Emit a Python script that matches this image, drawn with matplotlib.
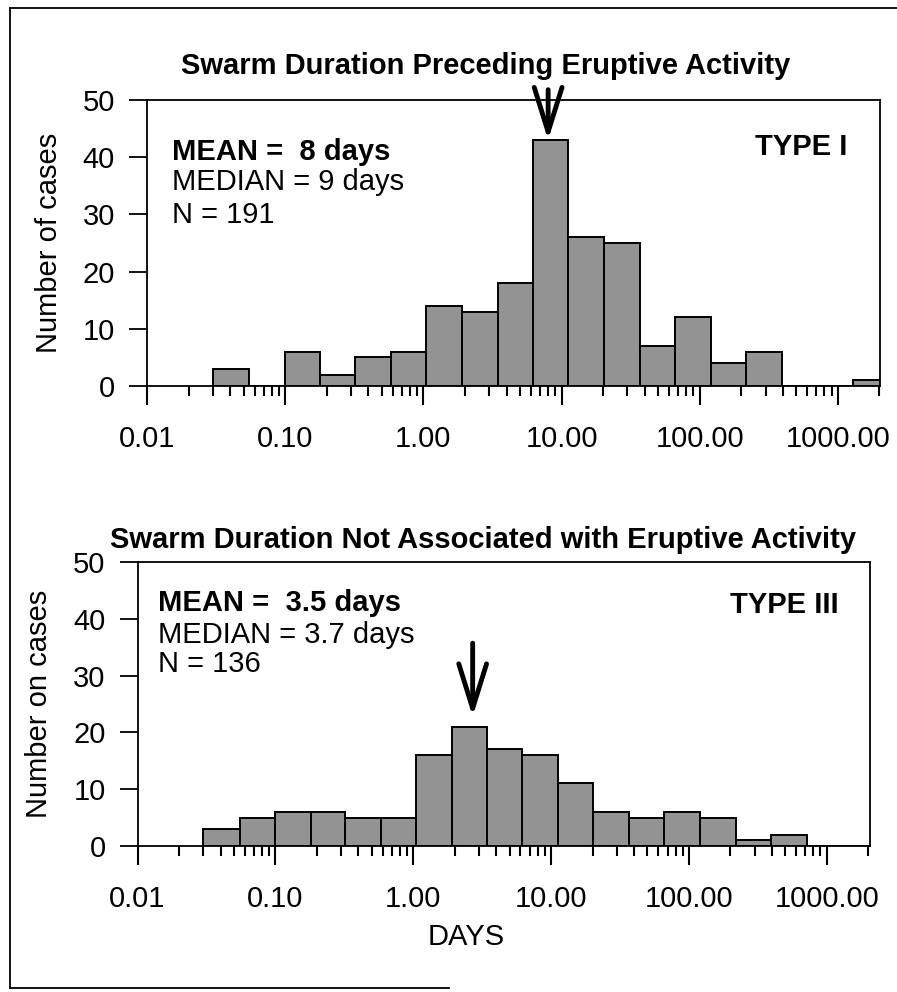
import numpy as np
import matplotlib
matplotlib.use("Agg")
import matplotlib.pyplot as plt
from matplotlib.lines import Line2D
from matplotlib.ticker import FixedLocator, FixedFormatter, LogLocator, NullFormatter

# bin edges in days (same log bins in both panels)
bin_edges = [0.030, 0.055, 0.099, 0.18, 0.32, 0.58, 1.05, 1.9, 3.45, 6.2,
             11.2, 20.3, 36.8, 66.5, 120, 218, 395, 715, 1290, 2340]

# Type I: swarms preceding eruptive activity
type1_counts = [3, 0, 6, 2, 5, 6, 14, 13, 18, 43, 26, 25, 7, 12, 4, 6, 0, 0, 1]
# Type III: swarms not associated with eruptions
type3_counts = [3, 5, 6, 6, 5, 5, 16, 21, 17, 16, 11, 6, 5, 6, 5, 1, 2, 0, 0]

xtick_vals = [0.01, 0.1, 1, 10, 100, 1000]
xtick_labels = ["0.01", "0.10", "1.00", "10.00", "100.00", "1000.00"]
ytick_vals = [0, 10, 20, 30, 40, 50]

arrow1 = (8.0, 43, 51.8)     # x, tip y, tail y
arrow3 = (2.7, 22.8, 35.7)

plt.rcParams['font.family'] = ['Liberation Sans', 'DejaVu Sans']
NARROW = ['Liberation Sans Narrow', 'Liberation Sans']
FS = 21

fig = plt.figure(figsize=(8.97, 9.92), dpi=100)
ax1 = fig.add_axes([0.1639, 0.6109, 0.8172, 0.2883])
ax3 = fig.add_axes([0.1533, 0.1472, 0.8166, 0.2863])

widths = np.diff(bin_edges)


def setup(ax, counts, xmax, ylabel):
    ax.bar(bin_edges[:-1], counts, width=widths, align='edge',
           color='#939393', edgecolor='black', linewidth=1.4, zorder=2)
    ax.set_xscale('log')
    ax.set_xlim(0.01, xmax)
    ax.set_ylim(0, 50)
    ax.xaxis.set_major_locator(FixedLocator(xtick_vals))
    ax.xaxis.set_major_formatter(FixedFormatter(xtick_labels))
    ax.xaxis.set_minor_locator(LogLocator(base=10, subs=np.arange(2, 10)))
    ax.xaxis.set_minor_formatter(NullFormatter())
    ax.set_yticks(ytick_vals)
    ax.tick_params(axis='x', which='major', direction='out', length=14,
                   width=1.5, pad=14, labelsize=FS)
    ax.tick_params(axis='x', which='minor', direction='out', length=7,
                   width=1.5)
    ax.tick_params(axis='y', direction='out', length=13, width=1.3,
                   pad=10, labelsize=FS)
    for lab in ax.get_xticklabels():
        lab.set_family(NARROW)
    for sp in ax.spines.values():
        sp.set_linewidth(1.3)
    ax.set_ylabel(ylabel, fontsize=FS)
    ax.yaxis.set_label_coords(-0.115, 0.5)


setup(ax1, type1_counts, 2020, "Number of cases")
setup(ax3, type3_counts, 2060, "Number on cases")

# stats text
ax1.text(0.034, 0.790, "MEAN =  8 days", transform=ax1.transAxes,
         fontsize=FS, fontweight='bold')
ax1.text(0.034, 0.685, "MEDIAN = 9 days", transform=ax1.transAxes, fontsize=FS)
ax1.text(0.034, 0.570, "N = 191", transform=ax1.transAxes, fontsize=FS)
ax1.text(0.955, 0.808, "TYPE I", transform=ax1.transAxes, fontsize=FS,
         fontweight='bold', ha='right')

ax3.text(0.028, 0.8285, "MEAN =  3.5 days", transform=ax3.transAxes,
         fontsize=FS, fontweight='bold')
ax3.text(0.028, 0.713, "MEDIAN = 3.7 days", transform=ax3.transAxes, fontsize=FS)
ax3.text(0.028, 0.613, "N = 136", transform=ax3.transAxes, fontsize=FS)
ax3.text(0.957, 0.819, "TYPE III", transform=ax3.transAxes, fontsize=FS,
         fontweight='bold', ha='right')

# arrows
for ax, (ax_x, tip, tail) in [(ax1, arrow1), (ax3, arrow3)]:
    ax.annotate("", xy=(ax_x, tip), xytext=(ax_x, tail),
                arrowprops=dict(arrowstyle='->,head_length=3.2,head_width=1.0',
                                lw=3.5, color='black', shrinkA=0, shrinkB=0,
                                mutation_scale=10),
                annotation_clip=False, zorder=5)

# titles and x label
fig.text(0.542, 0.925, "Swarm Duration Preceding Eruptive Activity",
         fontsize=FS, fontweight='bold', ha='center', va='baseline')
fig.text(0.539, 0.4476, "Swarm Duration Not Associated with Eruptive Activity",
         fontsize=FS, fontweight='bold', ha='center', va='baseline')
fig.text(0.52, 0.047, "DAYS", fontsize=FS, ha='center', va='baseline',
         family=NARROW)

# page frame from the scan
fig.add_artist(Line2D([0.011, 0.011], [0.004, 0.992], color='black', lw=1.3))
fig.add_artist(Line2D([0.011, 1.0], [0.992, 0.992], color='black', lw=1.3))
fig.add_artist(Line2D([0.011, 0.5], [0.004, 0.004], color='black', lw=1.3))

fig.savefig("out.png", dpi=100)
